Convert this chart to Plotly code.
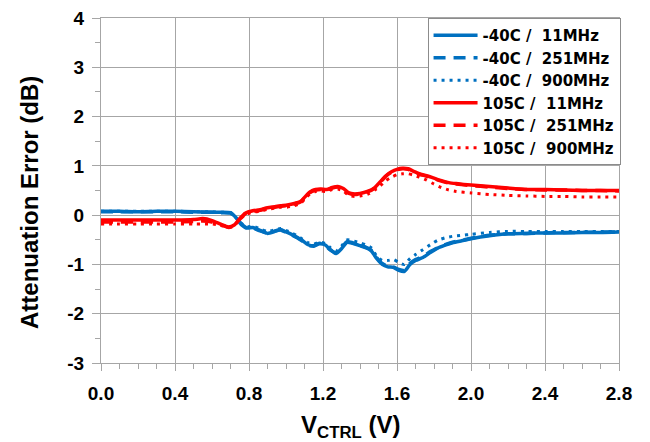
import plotly.graph_objects as go

# ---- data ----
v_b11 = [0, 0.1, 0.2, 0.3, 0.4, 0.5, 0.6, 0.65, 0.70, 0.73, 0.76, 0.79, 0.82, 0.86, 0.90, 0.94, 0.97, 1.00, 1.03, 1.06, 1.09, 1.12, 1.15, 1.18, 1.21, 1.24, 1.27, 1.30, 1.33, 1.36, 1.40, 1.43, 1.46, 1.49, 1.52, 1.55, 1.58, 1.61, 1.64, 1.67, 1.70, 1.74, 1.78, 1.82, 1.86, 1.90, 1.95, 2.0, 2.1, 2.2, 2.3, 2.4, 2.5, 2.6, 2.7, 2.8]
e_b11 = [0.08, 0.08, 0.07, 0.08, 0.08, 0.07, 0.06, 0.06, 0.05, -0.05, -0.18, -0.26, -0.25, -0.31, -0.37, -0.33, -0.29, -0.34, -0.39, -0.45, -0.52, -0.60, -0.63, -0.58, -0.60, -0.70, -0.78, -0.68, -0.55, -0.57, -0.62, -0.66, -0.72, -0.88, -1.00, -1.05, -1.06, -1.12, -1.14, -1.00, -0.92, -0.86, -0.76, -0.67, -0.61, -0.56, -0.52, -0.48, -0.42, -0.38, -0.37, -0.36, -0.36, -0.35, -0.35, -0.34]

v_b251 = [0, 0.1, 0.2, 0.3, 0.4, 0.5, 0.6, 0.65, 0.70, 0.73, 0.76, 0.79, 0.82, 0.86, 0.90, 0.94, 0.97, 1.00, 1.03, 1.06, 1.09, 1.12, 1.15, 1.18, 1.21, 1.24, 1.27, 1.30, 1.33, 1.36, 1.40, 1.43, 1.46, 1.49, 1.52, 1.55, 1.58, 1.61, 1.64, 1.67, 1.70, 1.74, 1.78, 1.82, 1.86, 1.90, 1.95, 2.0, 2.1, 2.2, 2.3, 2.4, 2.5, 2.6, 2.7, 2.8]
e_b251 = [0.07, 0.07, 0.07, 0.07, 0.07, 0.06, 0.06, 0.05, 0.04, -0.07, -0.20, -0.27, -0.26, -0.32, -0.36, -0.32, -0.30, -0.35, -0.40, -0.46, -0.53, -0.61, -0.62, -0.57, -0.61, -0.71, -0.76, -0.66, -0.54, -0.56, -0.61, -0.65, -0.71, -0.86, -0.98, -1.04, -1.05, -1.10, -1.12, -0.98, -0.90, -0.84, -0.74, -0.66, -0.60, -0.55, -0.51, -0.47, -0.41, -0.38, -0.37, -0.36, -0.35, -0.35, -0.34, -0.34]

v_b900 = [0, 0.1, 0.2, 0.3, 0.4, 0.5, 0.6, 0.65, 0.70, 0.73, 0.76, 0.79, 0.82, 0.86, 0.90, 0.94, 0.97, 1.00, 1.03, 1.06, 1.09, 1.12, 1.15, 1.18, 1.21, 1.24, 1.27, 1.30, 1.33, 1.36, 1.40, 1.43, 1.46, 1.49, 1.52, 1.55, 1.58, 1.61, 1.64, 1.67, 1.70, 1.74, 1.78, 1.82, 1.86, 1.90, 1.95, 2.0, 2.1, 2.2, 2.3, 2.4, 2.5, 2.6, 2.7, 2.8]
e_b900 = [0.08, 0.08, 0.08, 0.08, 0.08, 0.07, 0.07, 0.06, 0.05, -0.06, -0.17, -0.24, -0.22, -0.28, -0.33, -0.30, -0.27, -0.31, -0.36, -0.42, -0.49, -0.56, -0.59, -0.55, -0.57, -0.66, -0.73, -0.63, -0.50, -0.52, -0.56, -0.60, -0.66, -0.83, -0.92, -0.92, -0.90, -0.96, -1.00, -0.88, -0.80, -0.70, -0.60, -0.51, -0.46, -0.43, -0.41, -0.39, -0.35, -0.33, -0.33, -0.33, -0.33, -0.33, -0.33, -0.33]

v_r11 = [0, 0.1, 0.2, 0.3, 0.4, 0.5, 0.55, 0.60, 0.65, 0.69, 0.72, 0.75, 0.78, 0.82, 0.86, 0.90, 0.94, 0.97, 1.00, 1.04, 1.08, 1.10, 1.13, 1.16, 1.19, 1.22, 1.25, 1.28, 1.31, 1.34, 1.37, 1.40, 1.44, 1.48, 1.51, 1.54, 1.57, 1.60, 1.63, 1.66, 1.69, 1.72, 1.76, 1.80, 1.84, 1.88, 1.92, 2.0, 2.1, 2.2, 2.3, 2.4, 2.5, 2.6, 2.7, 2.8]
e_r11 = [-0.10, -0.10, -0.10, -0.10, -0.10, -0.09, -0.07, -0.11, -0.19, -0.24, -0.20, -0.07, 0.04, 0.09, 0.11, 0.15, 0.17, 0.19, 0.20, 0.23, 0.28, 0.36, 0.47, 0.52, 0.53, 0.52, 0.56, 0.58, 0.54, 0.45, 0.43, 0.44, 0.48, 0.56, 0.68, 0.80, 0.88, 0.93, 0.95, 0.94, 0.89, 0.84, 0.80, 0.75, 0.70, 0.66, 0.64, 0.61, 0.58, 0.55, 0.52, 0.52, 0.51, 0.50, 0.50, 0.50]

v_r251 = [0, 0.1, 0.2, 0.3, 0.4, 0.5, 0.55, 0.60, 0.65, 0.69, 0.72, 0.75, 0.78, 0.82, 0.86, 0.90, 0.94, 0.97, 1.00, 1.04, 1.08, 1.10, 1.13, 1.16, 1.19, 1.22, 1.25, 1.28, 1.31, 1.34, 1.37, 1.40, 1.44, 1.48, 1.51, 1.54, 1.57, 1.60, 1.63, 1.66, 1.69, 1.72, 1.76, 1.80, 1.84, 1.88, 1.92, 2.0, 2.1, 2.2, 2.3, 2.4, 2.5, 2.6, 2.7, 2.8]
e_r251 = [-0.14, -0.14, -0.14, -0.14, -0.14, -0.13, -0.12, -0.14, -0.20, -0.25, -0.21, -0.08, 0.03, 0.08, 0.10, 0.14, 0.16, 0.18, 0.19, 0.22, 0.27, 0.35, 0.46, 0.51, 0.52, 0.51, 0.55, 0.57, 0.52, 0.44, 0.42, 0.43, 0.47, 0.55, 0.67, 0.79, 0.87, 0.92, 0.94, 0.93, 0.88, 0.83, 0.79, 0.74, 0.69, 0.65, 0.63, 0.60, 0.57, 0.54, 0.52, 0.51, 0.51, 0.50, 0.50, 0.49]

v_r900 = [0, 0.1, 0.2, 0.3, 0.4, 0.5, 0.55, 0.60, 0.65, 0.69, 0.72, 0.75, 0.78, 0.82, 0.86, 0.90, 0.94, 0.97, 1.00, 1.04, 1.08, 1.10, 1.13, 1.16, 1.19, 1.22, 1.25, 1.28, 1.31, 1.34, 1.37, 1.40, 1.44, 1.48, 1.51, 1.54, 1.57, 1.60, 1.63, 1.66, 1.69, 1.72, 1.76, 1.80, 1.84, 1.88, 1.92, 2.0, 2.1, 2.2, 2.3, 2.4, 2.5, 2.6, 2.7, 2.8]
e_r900 = [-0.18, -0.18, -0.18, -0.18, -0.18, -0.18, -0.18, -0.18, -0.21, -0.25, -0.21, -0.09, 0.01, 0.06, 0.08, 0.12, 0.14, 0.16, 0.16, 0.19, 0.24, 0.32, 0.43, 0.48, 0.49, 0.48, 0.52, 0.53, 0.49, 0.40, 0.38, 0.39, 0.42, 0.51, 0.60, 0.70, 0.77, 0.82, 0.84, 0.84, 0.81, 0.77, 0.71, 0.63, 0.56, 0.51, 0.48, 0.45, 0.42, 0.40, 0.39, 0.38, 0.38, 0.37, 0.37, 0.37]

names = ["-40C /\u00a0\u00a011MHz", "-40C /\u00a0\u00a0251MHz", "-40C /\u00a0\u00a0900MHz",
         "105C /\u00a0\u00a011MHz", "105C /\u00a0\u00a0251MHz", "105C /\u00a0\u00a0900MHz"]

x_tickvals = [0, 0.4, 0.8, 1.2, 1.6, 2.0, 2.4, 2.8]
x_ticktext = ["0.0", "0.4", "0.8", "1.2", "1.6", "2.0", "2.4", "2.8"]
y_tickvals = [-3, -2, -1, 0, 1, 2, 3, 4]
y_ticktext = ["-3", "-2", "-1", "0", "1", "2", "3", "4"]

x_title = "V<sub>CTRL</sub> (V)"
y_title = "Attenuation Error (dB)"

BLUE = "#0070C0"
RED = "#FF0000"
series = [
    (v_b11, e_b11, BLUE, "solid", 3.5),
    (v_b251, e_b251, BLUE, "12px,8px", 3.5),
    (v_b900, e_b900, BLUE, "3px,5px", 3),
    (v_r11, e_r11, RED, "solid", 3.5),
    (v_r251, e_r251, RED, "12px,8px", 3.5),
    (v_r900, e_r900, RED, "3px,5px", 3),
]

fig = go.Figure()
for (xv, yv, col, dash, w), nm in zip(series, names):
    fig.add_trace(go.Scatter(x=xv, y=yv, mode="lines", name=nm,
                             line=dict(color=col, width=w, dash=dash, shape="spline", smoothing=0.6)))

FONT = "Liberation Sans, Arial, sans-serif"
LFONT = "DejaVu Sans, Liberation Sans, sans-serif"
GRID = "#A6A6A6"
# page body has an 8px margin: figure is 642x434 so the plot lands at x 101..619, y 18..363
fig.update_layout(
    width=642, height=434,
    margin=dict(l=93, r=31, t=10, b=79),
    paper_bgcolor="white", plot_bgcolor="white",
    font=dict(family=FONT, color="black"),
    showlegend=True,
    legend=dict(x=1.003, y=1, xanchor="right", yanchor="top",
                bgcolor="white", bordercolor="#8C8C8C", borderwidth=1,
                font=dict(family=LFONT, size=15, color="black", weight="bold"),
                itemwidth=44, tracegroupgap=0),
    xaxis=dict(range=[0, 2.8], tickmode="array", tickvals=x_tickvals, ticktext=x_ticktext,
               automargin=False, ticklabeloverflow="allow",
               showgrid=True, gridcolor=GRID, gridwidth=1,
               showline=True, linecolor=GRID, linewidth=1, mirror=True,
               ticks="outside", ticklen=7, tickcolor=GRID, ticklabelstandoff=6,
               minor=dict(tickmode="linear", tick0=0, dtick=0.1, ticks="outside", ticklen=5, tickcolor=GRID, showgrid=False),
               tickfont=dict(family=FONT, size=19, color="black", weight="bold"),
               zeroline=False),
    yaxis=dict(range=[-3, 4], tickmode="array", tickvals=y_tickvals, ticktext=y_ticktext,
               automargin=False, ticklabeloverflow="allow",
               showgrid=True, gridcolor=GRID, gridwidth=1,
               showline=True, linecolor=GRID, linewidth=1, mirror=True,
               ticks="outside", ticklen=8, tickcolor=GRID, ticklabelstandoff=4,
               minor=dict(tickmode="linear", tick0=0, dtick=0.5, ticks="outside", ticklen=5, tickcolor=GRID, showgrid=False),
               tickfont=dict(family=FONT, size=19, color="black", weight="bold"),
               zeroline=False),
    annotations=[
        dict(text=x_title, xref="paper", yref="paper", x=0.4826, y=0, yshift=-63,
             xanchor="center", yanchor="middle", showarrow=False,
             font=dict(family=FONT, size=24, color="black", weight="bold")),
        dict(text=y_title, xref="paper", yref="paper", x=0, xshift=-71, y=0.4638,
             xanchor="center", yanchor="middle", textangle=-90, showarrow=False,
             font=dict(family=FONT, size=24, color="black", weight="bold")),
    ],
)

fig.write_html("out.html")
